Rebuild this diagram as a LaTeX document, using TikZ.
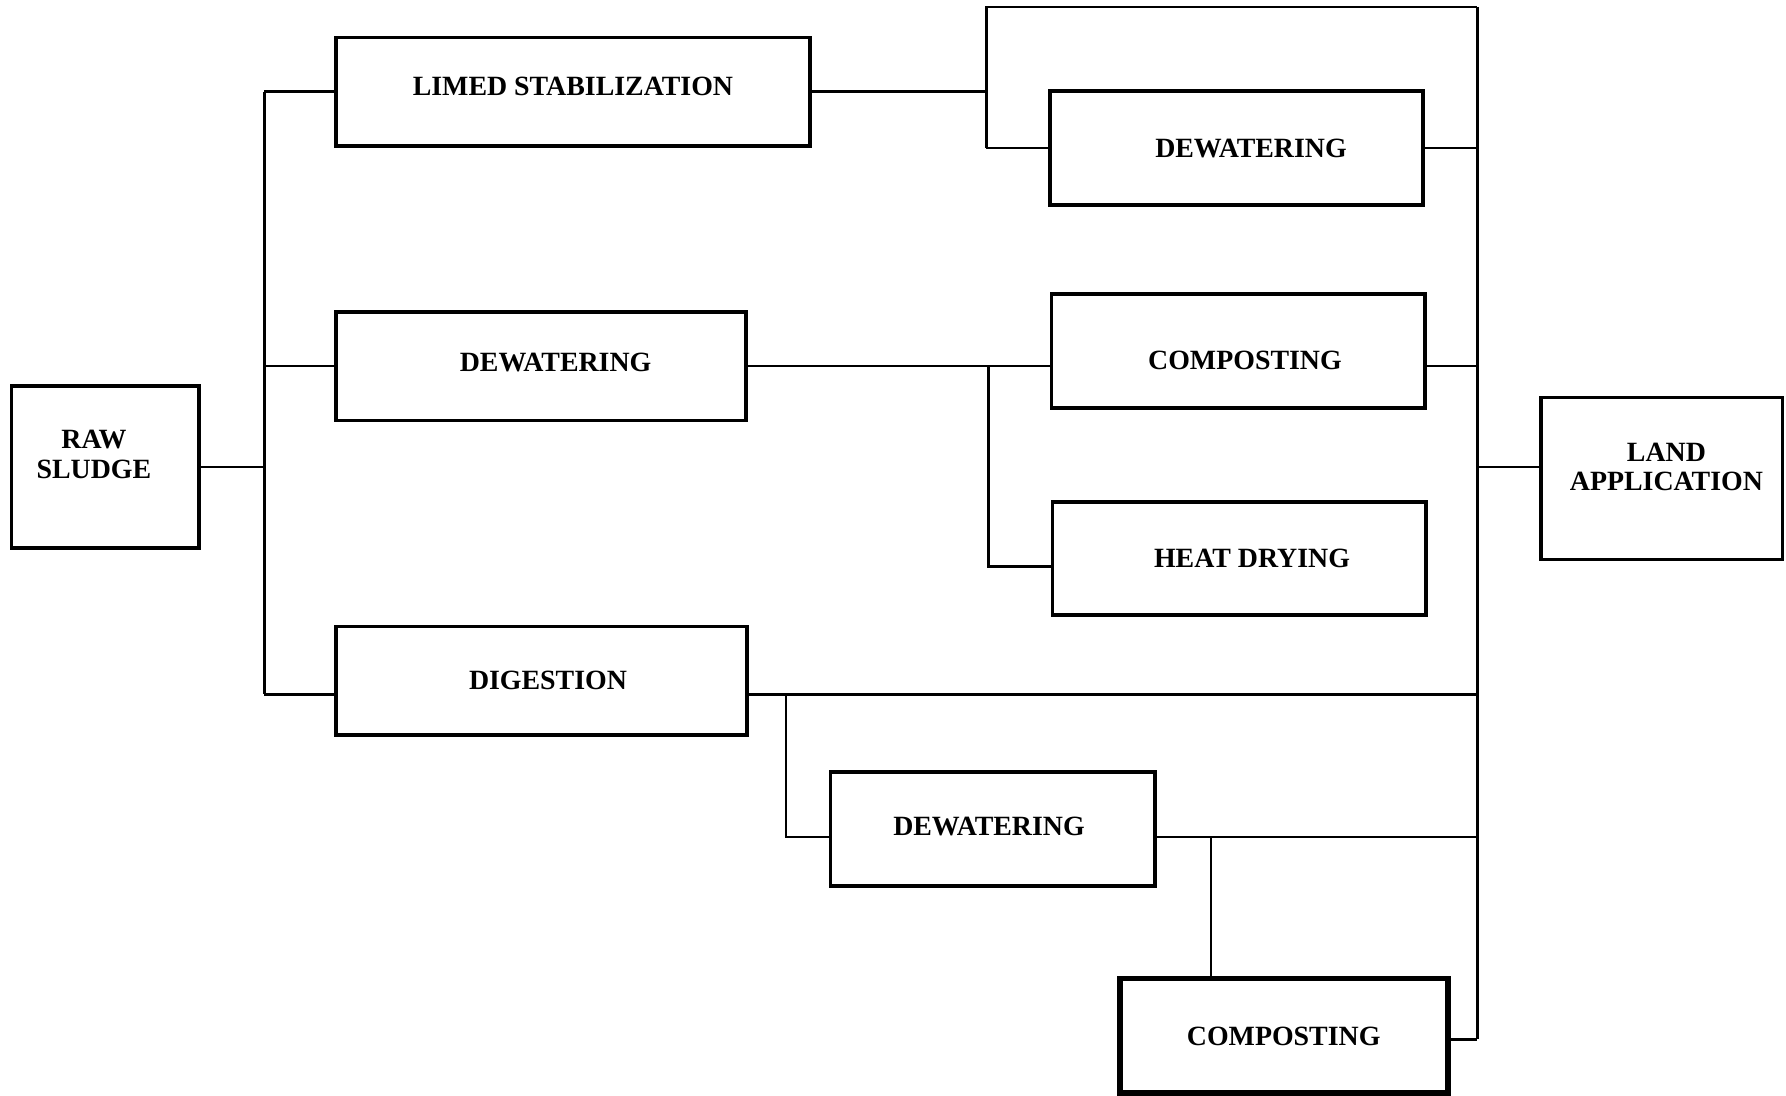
\documentclass[tikz,border=0pt]{standalone}
\usepackage{fontspec}
\setmainfont{Liberation Serif}
\usepackage{tikz}
\usetikzlibrary{calc}
\usetikzlibrary{positioning}
\tikzset{every picture/.style={semithick}}
\tikzset{box/.style={draw, line width=1.1pt, inner sep=0pt}}
\tikzset{heavybox/.style={box, line width=1.8pt}}
\tikzset{txt/.style={align=center, inner sep=0pt, font=\fontsize{8.7}{9.3}\selectfont\bfseries}}
\tikzset{link/.style={line width=0.8pt}}

\begin{document}
\begin{tikzpicture}[x=0.0125cm, y=-0.0125cm]
		\def\busL{232}
		\def\busR{1297}
		\def\limX{866}
		\def\dewX{868}
		\def\digX{690}
		\def\compX{1063}
		\def\topY{6}
		\def\dDig{12}
		\def\dLow{7}

		\useasboundingbox (0,0) rectangle (1568,962);

		\node[box, minimum width=2.06cm, minimum height=1.775cm, label={[txt, xshift=-0.125cm, yshift=0.14cm]center:RAW\\SLUDGE}] (raw) at (92.5,410) {};
		\node[box, minimum width=5.2cm, minimum height=1.19cm, label={[txt, yshift=0.056cm]center:LIMED STABILIZATION}] (limed) at (503,80.5) {};
		\node[box, minimum width=4.5cm, minimum height=1.19cm, label={[txt, xshift=0.16cm, yshift=0.04cm]center:DEWATERING}] (dew1) at (475,321.5) {};
		\node[box, minimum width=4.51cm, minimum height=1.19cm, label={[txt, xshift=0.07cm]center:DIGESTION}] (dig) at (475.5,597.5) {};
		\node[box, minimum width=4.09cm, minimum height=1.25cm, label={[txt, xshift=0.16cm]center:DEWATERING}] (dew2) at (1085.5,130) {};
		\node[box, minimum width=4.1cm, minimum height=1.25cm, label={[txt, xshift=0.075cm, yshift=-0.1cm]center:COMPOSTING}] (comp1) at (1087,308) {};
		\node[box, minimum width=4.1cm, minimum height=1.24cm, label={[txt, xshift=0.14cm]center:HEAT DRYING}] (heat) at (1088,490.5) {};
		\node[box, minimum width=2.65cm, minimum height=1.775cm, label={[txt, xshift=0.05cm, yshift=0.125cm]center:LAND\\APPLICATION}] (land) at (1459,420) {};
		\node[box, minimum width=3.56cm, minimum height=1.25cm, label={[txt, xshift=-0.04cm, yshift=0.025cm]center:DEWATERING}] (dew3) at (871.5,728) {};
		\node[heavybox, minimum width=3.6cm, minimum height=1.26cm, label={[txt]center:COMPOSTING}] (comp2) at (1127,909.5) {};

		\coordinate (bl) at (\busL,0);
		\coordinate (br) at (\busR,\topY);
		\coordinate (lt) at (\limX,\topY);
		\coordinate (dg) at ($(dig.east)+(0,\dDig)$);
		\coordinate (hd) at ($(heat.west)+(0,\dLow)$);
		\coordinate (dw) at ($(dew3.west)+(0,\dLow)$);
		\coordinate (de) at ($(dew3.east)+(0,\dLow)$);
		\coordinate (ce) at ($(comp2.east)+(0,3)$);

		\draw[link] (raw.east) -- (raw.east -| bl);
		\draw[link] (bl |- limed.west) -- (bl |- dg);
		\draw[link] (bl |- limed.west) -- (limed.west);
		\draw[link] (bl |- dew1.west) -- (dew1.west);
		\draw[link] (bl |- dg) -- (dig.west |- dg);

		\draw[link] (limed.east) -- (lt |- limed.east);
		\draw[link] (lt |- dew2.west) -- (lt) -- (br);
		\draw[link] (lt |- dew2.west) -- (dew2.west);
		\draw[link] (dew2.east) -- (br |- dew2.east);
		\draw[link] (br) -- (br |- ce);

		\draw[link] (dew1.east) -- (comp1.west |- dew1.east);
		\draw[link] (\dewX,0 |- dew1.east) |- (hd);
		\draw[link] (comp1.east |- dew1.east) -- (br |- dew1.east);

		\draw[link] (br |- raw.east) -- (land.west |- raw.east);

		\draw[link] (dg) -- (br |- dg);
		\draw[link] (\digX,0 |- dg) |- (dw);
		\draw[link] (de) -- (br |- de);
		\draw[link] (\compX,0 |- de) -- (\compX,0 |- comp2.north);
		\draw[link] (ce) -- (br |- ce);

	\end{tikzpicture}
\end{document}
